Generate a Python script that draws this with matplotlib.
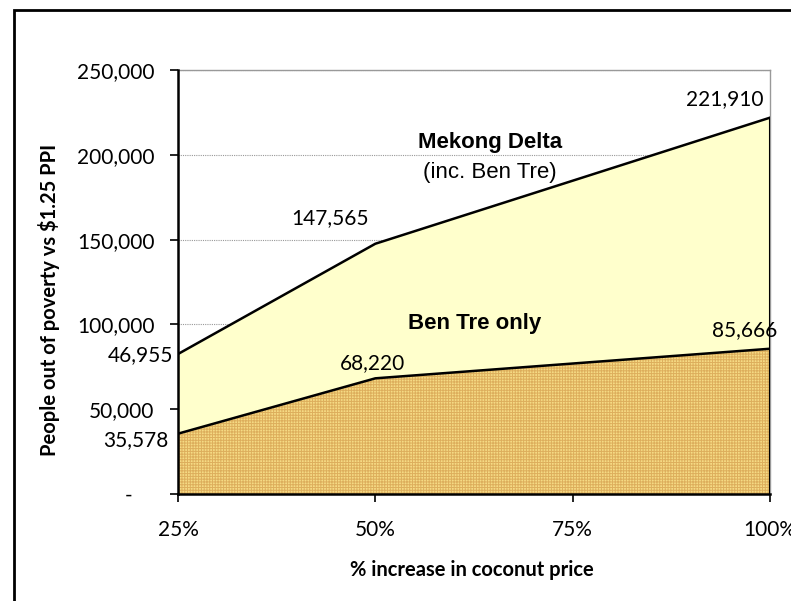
import matplotlib
matplotlib.use('Agg')
from matplotlib import pyplot as plt
from matplotlib.patches import Rectangle
from matplotlib.ticker import FuncFormatter

# % increase in coconut price
price_increase = [25, 50, 100]
x_ticks = [25, 50, 75, 100]
x_tick_labels = ['25%', '50%', '75%', '100%']

# people lifted out of poverty
ben_tre = [35578, 68220, 85666]
mekong_delta = [82533, 147565, 221910]

mekong_labels = ['46,955', '147,565', '221,910']
ben_tre_labels = ['35,578', '68,220', '85,666']

y_ticks = [0, 50000, 100000, 150000, 200000, 250000]

plt.rcParams['font.family'] = ['Lato', 'DejaVu Sans']
plt.rcParams['hatch.linewidth'] = 0.7

fig = plt.figure(figsize=(7.91, 6.01), dpi=100)
ax = fig.add_axes([0.225, 0.178, 0.7485, 0.7055])

# outer chart border
fig.patches.append(Rectangle((14 / 791, -0.1), 1.2, 1 - 10 / 601 + 0.1,
                             transform=fig.transFigure, fill=False,
                             edgecolor='black', linewidth=2))

ax.fill_between(price_increase, 0, mekong_delta, facecolor='#FFFFCC',
                edgecolor='none', zorder=2)
ax.fill_between(price_increase, 0, ben_tre, facecolor='#F5DA84',
                edgecolor='#DDAE5C', hatch='++++++', linewidth=0, zorder=3)
ax.plot(price_increase, mekong_delta, color='black', linewidth=1.8, zorder=4)
ax.plot(price_increase, ben_tre, color='black', linewidth=1.8, zorder=4)
ax.plot([100, 100], [0, mekong_delta[-1]], color='black', linewidth=1.5, zorder=4)

ax.set_xlim(25, 100)
ax.set_ylim(0, 250000)
ax.set_xticks(x_ticks)
ax.set_xticklabels(x_tick_labels)
ax.set_yticks(y_ticks)
ax.yaxis.set_major_formatter(FuncFormatter(
    lambda v, p: '-    ' if v == 0 else f'{int(v):,}'))

ax.grid(axis='y', color='#999999', linestyle=(0, (1, 1)), linewidth=0.8, zorder=1)
for s in ['top', 'right']:
    ax.spines[s].set_color('#999999')
    ax.spines[s].set_linewidth(1)
for s in ['left', 'bottom']:
    ax.spines[s].set_linewidth(1.8)
    ax.spines[s].set_zorder(5)

ax.tick_params(axis='y', direction='out', length=6, width=1.2, pad=11, labelsize=15)
ax.tick_params(axis='x', direction='out', length=6, width=1.2, pad=13, labelsize=15)

ax.set_xlabel('% increase in coconut price', fontsize=14.5, fontweight='bold')
ax.set_ylabel('People out of poverty vs $1.25 PPI', fontsize=14.5, fontweight='bold')
ax.xaxis.set_label_coords(0.497, -0.179)
ax.yaxis.set_label_coords(-0.218, 0.4575)
ax.xaxis.label.set_va('center')
ax.yaxis.label.set_va('center')

# data labels
ax.text(173 / 791, 1 - 355 / 601, mekong_labels[0], transform=fig.transFigure,
        ha='right', va='center', fontsize=15)
ax.text(168 / 791, 1 - 440 / 601, ben_tre_labels[0], transform=fig.transFigure,
        ha='right', va='center', fontsize=15)
ax.text(44.3, 162700, mekong_labels[1], ha='center', va='center', fontsize=15, zorder=6)
ax.text(94.3, 232900, mekong_labels[2], ha='center', va='center', fontsize=15, zorder=6)
ax.text(49.7, 77200, ben_tre_labels[1], ha='center', va='center', fontsize=15, zorder=6)
ax.text(96.8, 96700, ben_tre_labels[2], ha='center', va='center', fontsize=15, zorder=6)

ax.text(64.5, 207000, 'Mekong Delta', ha='center', va='center', fontsize=16,
        fontweight='bold', family='Liberation Sans', zorder=6)
ax.text(64.5, 189300, '(inc. Ben Tre)', ha='center', va='center', fontsize=16,
        family='Liberation Sans', zorder=6)
ax.text(62.6, 100800, 'Ben Tre only', ha='center', va='center', fontsize=16,
        fontweight='bold', family='Liberation Sans', zorder=6)

fig.savefig('out.png', dpi=100)
